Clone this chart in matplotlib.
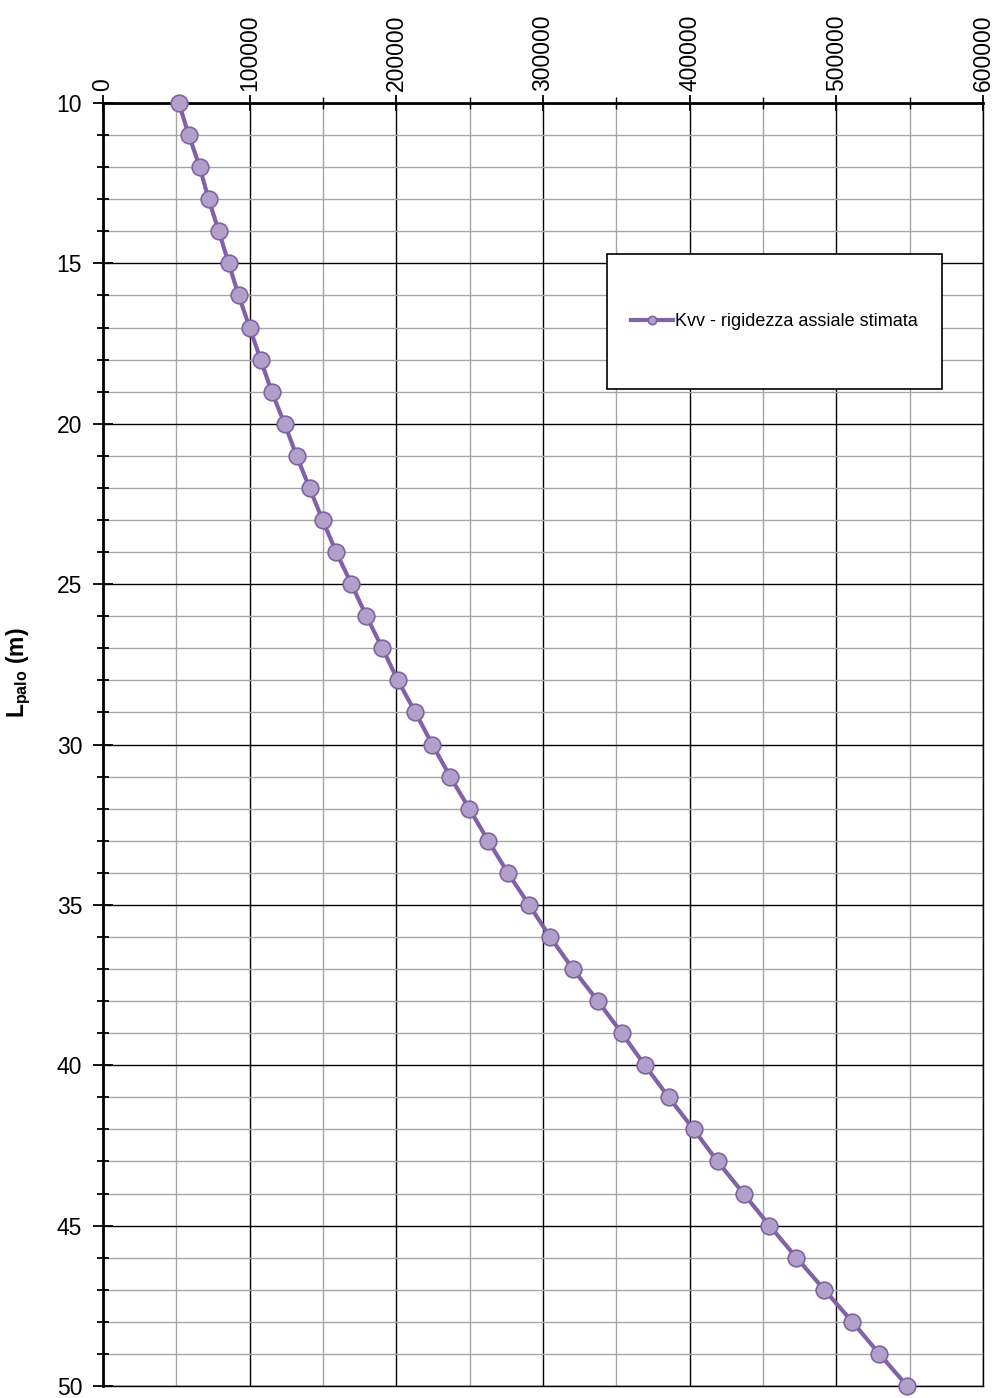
import matplotlib
matplotlib.use("Agg")
import matplotlib.pyplot as plt
from matplotlib.patches import Rectangle
from matplotlib.ticker import MultipleLocator

plt.rcParams['font.family'] = ['Liberation Sans', 'DejaVu Sans']
plt.rcParams['mathtext.fontset'] = 'custom'
plt.rcParams['mathtext.rm'] = 'Liberation Sans'
plt.rcParams['mathtext.bf'] = 'Liberation Sans:bold'

# pile length (m) and estimated axial stiffness
l_palo = list(range(10, 51))
kvv = [51700, 58500, 66000, 72000, 79000, 85700, 92500, 100000, 107500, 115000,
       123800, 132000, 140800, 149700, 159000, 169400, 179600, 190500, 201000, 213000,
       224500, 236700, 249700, 262600, 276000, 290500, 304800, 320400, 337400, 353700,
       369400, 385700, 402700, 419000, 436700, 454400, 472800, 491800, 510900, 529300,
       548300]
serie = "Kvv - rigidezza assiale stimata"

fig = plt.figure(figsize=(9.95, 13.98), dpi=100)
ax = fig.add_axes([0.1035, 0.0086, 0.8845, 0.9177])

ax.plot(kvv, l_palo, color='#7f62a8', lw=3, marker='o', ms=12,
        mfc='#b1a0cc', mec='#8064a2', mew=1.2, label=serie, zorder=3, clip_on=False)

ax.set_xlim(0, 600000)
ax.set_ylim(50, 10)
ax.xaxis.set_major_locator(MultipleLocator(100000))
ax.xaxis.set_minor_locator(MultipleLocator(50000))
ax.yaxis.set_major_locator(MultipleLocator(5))
ax.yaxis.set_minor_locator(MultipleLocator(1))
ax.xaxis.tick_top()
ax.grid(which='minor', color='#a6a6a6', lw=1)
ax.grid(which='major', color='black', lw=1)
ax.set_axisbelow(True)

ax.tick_params(axis='x', which='major', labelsize=16.5, labelrotation=90,
               direction='inout', length=12, width=1.3, pad=3)
ax.tick_params(axis='x', which='minor', direction='inout', length=8, width=1)
ax.tick_params(axis='y', which='major', labelsize=16.5, direction='inout',
               length=14, width=1.3, pad=8)
ax.tick_params(axis='y', which='minor', direction='inout', length=8, width=1.3)
for lab in ax.get_xticklabels():
    lab.set_verticalalignment('bottom')

ax.spines['bottom'].set_linewidth(1)
ax.spines['right'].set_linewidth(1)
ax.spines['left'].set_linewidth(2)
ax.spines['top'].set_linewidth(2)

ax.set_ylabel(r'$\mathbf{L_{palo}}$ $\mathbf{(m)}$', fontsize=16.5)
ax.yaxis.set_label_coords(-0.079, 0.556)

# legend box
ax.add_patch(Rectangle((0.573, 0.777), 0.38, 0.105, transform=ax.transAxes,
                       facecolor='white', edgecolor='black', lw=1.2, zorder=4))
ax.legend(loc='center', bbox_to_anchor=(0.763, 0.8295), frameon=False,
          fontsize=13, handlelength=2.3, handletextpad=0.1, markerscale=0.5)
ax.get_legend().set_zorder(5)

fig.savefig('out.png', dpi=100)
